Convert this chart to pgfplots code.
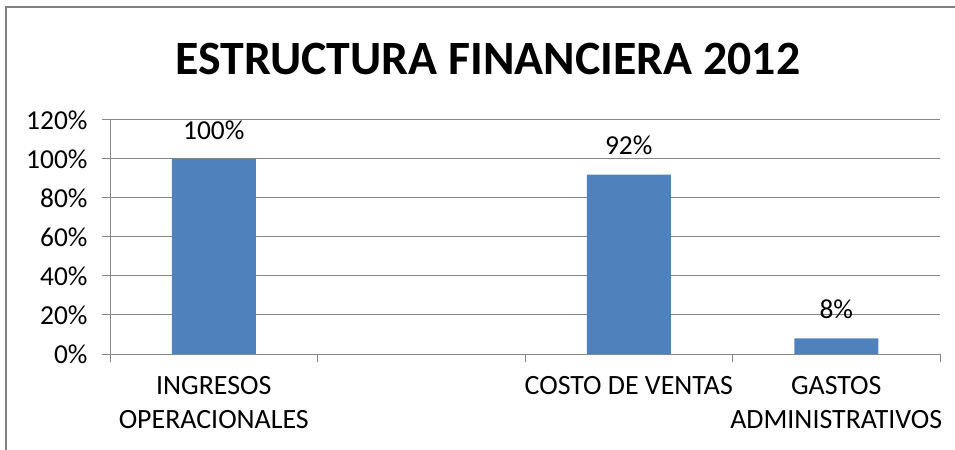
\documentclass[border=0pt]{standalone}
\usepackage{pgfplots}
\pgfplotsset{compat=1.18}
\usepackage{fontspec}
\setmainfont{Carlito}
\definecolor{barblue}{HTML}{4F81BD}
\definecolor{gridgray}{HTML}{868686}
\begin{document}
\begin{tikzpicture}
\path[use as bounding box] (0,0) rectangle (955bp,450bp);
\draw[color=gray, line width=2bp] (6bp,0) -- (6bp,443bp) -- (955bp,443bp);
\node[anchor=base, font=\fontsize{48}{52}\selectfont\bfseries] at (488bp,375bp) {ESTRUCTURA FINANCIERA 2012};
\begin{axis}[
  at={(110bp,96bp)}, anchor=south west,
  scale only axis, width=830bp, height=234bp,
  xmin=-0.5, xmax=3.5, ymin=0, ymax=120,
  axis lines=left, axis line style={-, draw=gridgray, line width=1bp},
  ytick={0,20,...,120},
  yticklabel={\pgfmathprintnumber{\tick}\%},
  /pgf/number format/assume math mode=true,
  ymajorgrids, grid style={draw=gridgray, line width=1bp},
  tick align=outside, major tick length=8bp,
  tick style={draw=gridgray, line width=1bp},
  xtick={-0.5,0.5,1.5,2.5,3.5}, xticklabels={},
  extra x ticks={0,2,3},
  extra x tick labels={{INGRESOS\\OPERACIONALES},{COSTO DE VENTAS},{GASTOS\\ADMINISTRATIVOS}},
  extra x tick style={major tick length=0pt, grid=none},
  yticklabel style={font=\fontsize{27.5}{31}\selectfont, xshift=-11bp},
  xticklabel style={align=center, font=\fontsize{28}{34}\selectfont, yshift=-19bp},
  ybar, bar width=84bp,
  nodes near coords={\pgfmathprintnumber{\pgfplotspointmeta}\%},
  nodes near coords style={font=\fontsize{27.5}{31}\selectfont, yshift=16bp},
  clip=false,
]
\addplot[fill=barblue, draw=none] coordinates {(0,100) (2,92) (3,8)};
\end{axis}
\end{tikzpicture}
\end{document}
